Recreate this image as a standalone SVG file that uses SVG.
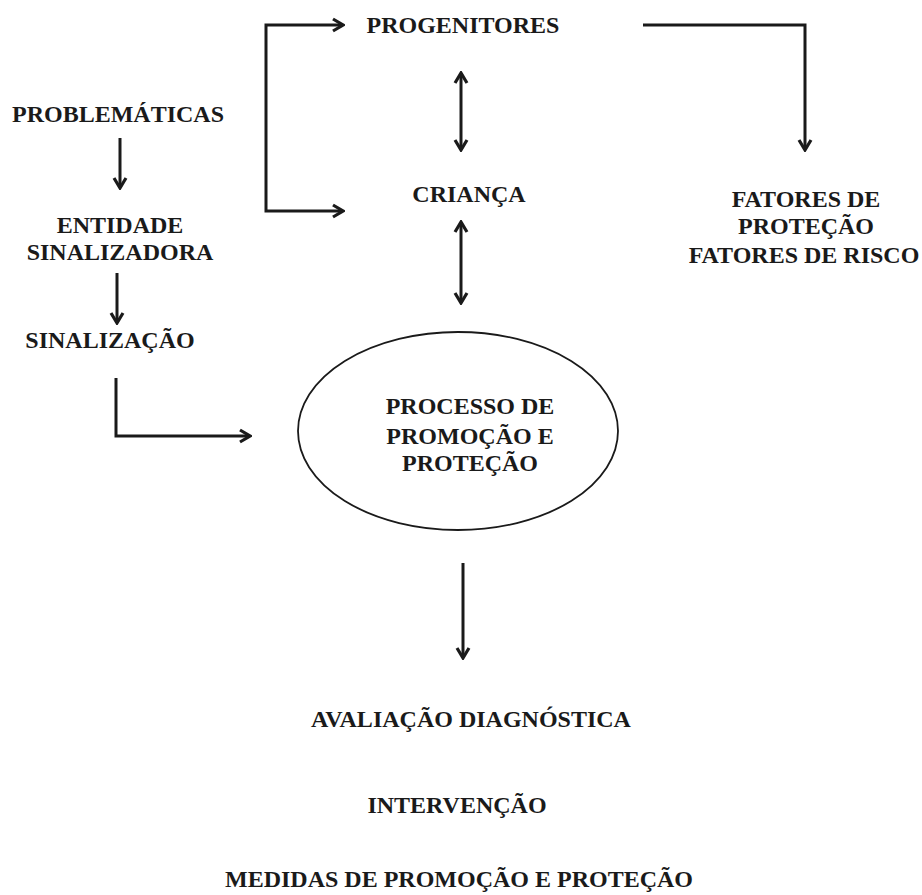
<svg xmlns="http://www.w3.org/2000/svg" width="922" height="895" viewBox="0 0 922 895">
<style>
  text { font-family: "Liberation Serif", "Times New Roman", serif; font-weight: bold; font-size: 24px; fill: #1a1a1a; text-anchor: middle; }
  .c { fill: none; stroke: #1a1a1a; stroke-width: 3; }
</style>
<defs>
  <marker id="ah" viewBox="0 0 14 16" refX="12" refY="8" markerWidth="14" markerHeight="16" markerUnits="userSpaceOnUse" orient="auto-start-reverse">
    <path d="M2,2 L12,8 L2,14" fill="none" stroke="#1a1a1a" stroke-width="3.2" stroke-linejoin="miter"/>
  </marker>
</defs>
<rect width="922" height="895" fill="#ffffff"/>
<g id="connectors">
  <path class="c" d="M343,25 H266 V211 H343" marker-start="url(#ah)" marker-end="url(#ah)"/>
  <path class="c" d="M120,138 V188" marker-end="url(#ah)"/>
  <path class="c" d="M117,273 V323" marker-end="url(#ah)"/>
  <path class="c" d="M116,378 V436 H250" marker-end="url(#ah)"/>
  <path class="c" d="M643,25 H805 V150" marker-end="url(#ah)"/>
  <path class="c" d="M461,73 V150" marker-start="url(#ah)" marker-end="url(#ah)"/>
  <path class="c" d="M461,222 V303" marker-start="url(#ah)" marker-end="url(#ah)"/>
  <path class="c" d="M463,563 V658" marker-end="url(#ah)"/>
</g>
<g id="progenitores"><text x="463" y="33">PROGENITORES</text></g>
<g id="problematicas"><text x="118" y="122">PROBLEMÁTICAS</text></g>
<g id="entidade"><text x="120" y="233">ENTIDADE</text><text x="120" y="260">SINALIZADORA</text></g>
<g id="sinalizacao"><text x="110" y="348">SINALIZAÇÃO</text></g>
<g id="crianca"><text x="469" y="202">CRIANÇA</text></g>
<g id="fatores"><text x="806" y="207">FATORES DE</text><text x="806" y="234">PROTEÇÃO</text><text x="804" y="263">FATORES DE RISCO</text></g>
<g id="processo">
  <ellipse cx="458" cy="431" rx="160" ry="99" fill="none" stroke="#1a1a1a" stroke-width="1.8"/>
  <text x="470" y="414">PROCESSO DE</text>
  <text x="470" y="444">PROMOÇÃO E</text>
  <text x="470" y="471">PROTEÇÃO</text>
</g>
<g id="avaliacao"><text x="471" y="727">AVALIAÇÃO DIAGNÓSTICA</text></g>
<g id="intervencao"><text x="457" y="813">INTERVENÇÃO</text></g>
<g id="medidas"><text x="459" y="887">MEDIDAS DE PROMOÇÃO E PROTEÇÃO</text></g>
</svg>
